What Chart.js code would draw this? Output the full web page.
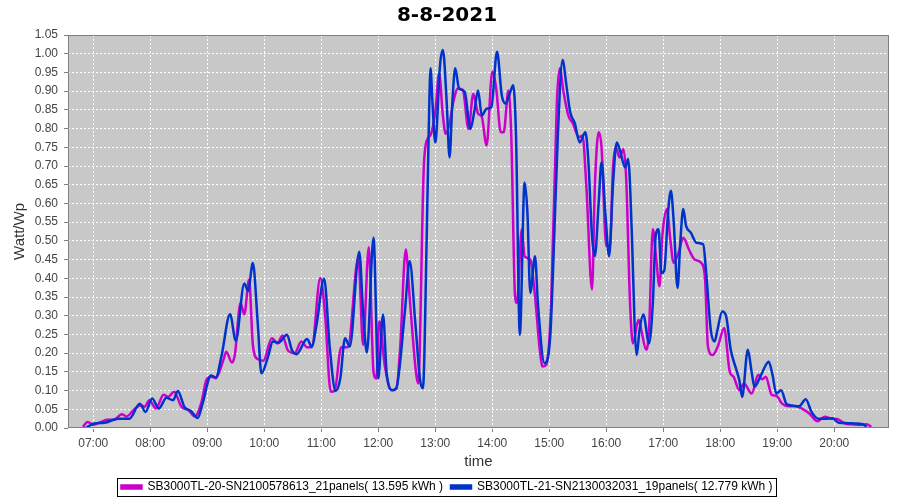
<!DOCTYPE html>
<html>
<head>
<meta charset="utf-8">
<script src="https://cdn.jsdelivr.net/npm/chart.js@4.4.1/dist/chart.umd.min.js"></script>
<style>
  body { margin: 0; background: #fff; }
  #wrap { width: 900px; height: 500px; }
</style>
</head>
<body>
<div id="wrap"><canvas id="powerChart" width="900" height="500"></canvas></div>
<script>
// values (Watt/Wp)
const hourTicks = ["07:00", "08:00", "09:00", "10:00", "11:00", "12:00", "13:00",
  "14:00", "15:00", "16:00", "17:00", "18:00", "19:00", "20:00"];

const sb20Times = ["06:49","06:54","07:00","07:08","07:15","07:22","07:30","07:35","07:44","07:50","07:54","07:59",
  "08:06","08:14","08:19","08:25","08:33","08:40","08:47","08:54","08:59","09:04","09:09","09:17","09:20","09:26",
  "09:29","09:35","09:39","09:44","09:48","09:53","09:59","10:08","10:14","10:19","10:25","10:32","10:39","10:45",
  "10:50","10:59","11:04","11:10","11:14","11:21","11:28","11:39","11:44","11:50","11:55","11:58","12:01","12:07",
  "12:14","12:19","12:23","12:29","12:33","12:40","12:42","12:48","12:52","12:55","13:00","13:04","13:08","13:11",
  "13:15","13:19","13:24","13:29","13:35","13:40","13:45","13:49","13:54","14:00","14:04","14:09","14:12","14:17",
  "14:20","14:24","14:26","14:31","14:34","14:40","14:45","14:50","14:53","14:57","15:02","15:08","15:11","15:15",
  "15:20","15:25","15:31","15:35","15:39","15:45","15:48","15:52","15:55","16:00","16:04","16:07","16:10","16:14",
  "16:18","16:21","16:25","16:28","16:34","16:37","16:42","16:45","16:49","16:52","16:56","16:59","17:04","17:07",
  "17:11","17:16","17:21","17:27","17:33","17:40","17:44","17:47","17:52","17:58","18:04","18:10","18:14","18:20",
  "18:25","18:33","18:40","18:44","18:48","18:54","18:59","19:05","19:12","19:19","19:26","19:34","19:42","19:50",
  "19:57","20:03","20:11","20:18","20:27","20:34","20:39"];
const sb20Values = [0.003,0.016,0.009,0.016,0.022,0.022,0.037,0.031,0.052,0.061,0.057,0.074,
  0.052,0.089,0.083,0.097,0.056,0.048,0.031,0.070,0.128,0.137,0.133,0.182,0.204,0.175,
  0.195,0.334,0.304,0.397,0.222,0.184,0.180,0.240,0.226,0.247,0.207,0.200,0.231,0.216,
  0.216,0.401,0.303,0.097,0.099,0.216,0.216,0.455,0.222,0.483,0.150,0.132,0.285,0.164,
  0.101,0.104,0.213,0.477,0.350,0.142,0.119,0.701,0.773,0.783,0.844,0.947,0.835,0.786,
  0.813,0.871,0.907,0.903,0.799,0.893,0.840,0.831,0.755,0.952,0.910,0.790,0.790,0.902,
  0.781,0.352,0.334,0.531,0.459,0.450,0.352,0.209,0.164,0.170,0.334,0.871,0.961,0.898,
  0.835,0.813,0.777,0.781,0.647,0.370,0.647,0.790,0.750,0.486,0.490,0.692,0.750,0.723,
  0.745,0.665,0.334,0.226,0.289,0.260,0.209,0.262,0.531,0.468,0.379,0.513,0.585,0.513,
  0.441,0.468,0.508,0.477,0.450,0.441,0.397,0.218,0.195,0.222,0.267,0.150,0.137,0.101,
  0.119,0.092,0.142,0.130,0.137,0.089,0.086,0.065,0.058,0.058,0.052,0.038,0.018,0.030,
  0.025,0.024,0.012,0.010,0.008,0.010,0.003];

const sb21Times = ["06:52","07:01","07:12","07:26","07:38","07:49","07:55","08:02","08:09","08:17","08:24","08:29",
  "08:36","08:43","08:50","08:55","09:04","09:09","09:15","09:24","09:30","09:39","09:43","09:48","09:53","09:57",
  "10:04","10:09","10:15","10:24","10:29","10:34","10:45","10:50","10:55","11:03","11:09","11:15","11:20","11:25",
  "11:30","11:40","11:44","11:48","11:55","12:00","12:05","12:09","12:15","12:19","12:28","12:33","12:39","12:44",
  "12:47","12:51","12:53","12:55","12:57","13:00","13:01","13:05","13:08","13:12","13:15","13:18","13:21","13:25",
  "13:31","13:37","13:41","13:45","13:49","13:54","13:59","14:05","14:10","14:14","14:19","14:22","14:25","14:29",
  "14:34","14:37","14:40","14:45","14:48","14:55","15:01","15:04","15:09","15:14","15:18","15:22","15:27","15:32",
  "15:38","15:41","15:45","15:48","15:52","15:55","15:59","16:03","16:07","16:11","16:14","16:20","16:23","16:27",
  "16:30","16:32","16:35","16:39","16:45","16:49","16:52","16:55","16:58","17:01","17:05","17:08","17:11","17:15",
  "17:18","17:21","17:24","17:29","17:35","17:42","17:45","17:50","17:54","17:57","18:02","18:06","18:11","18:17",
  "18:20","18:23","18:29","18:33","18:36","18:43","18:51","18:55","18:59","19:04","19:10","19:16","19:23","19:30",
  "19:36","19:43","19:51","19:58","20:05","20:14","20:21","20:30","20:34"];
const sb21Values = [0.000,0.012,0.014,0.025,0.025,0.065,0.043,0.079,0.052,0.081,0.074,0.099,
  0.056,0.045,0.027,0.065,0.140,0.135,0.193,0.304,0.233,0.386,0.366,0.441,0.285,0.146,
  0.191,0.231,0.228,0.249,0.209,0.197,0.238,0.218,0.276,0.399,0.213,0.099,0.132,0.240,
  0.218,0.471,0.311,0.202,0.508,0.132,0.303,0.142,0.101,0.107,0.311,0.446,0.280,0.128,
  0.106,0.513,0.781,0.961,0.871,0.763,0.780,0.969,1.010,0.871,0.723,0.871,0.961,0.907,
  0.898,0.799,0.844,0.902,0.835,0.853,0.857,1.005,0.889,0.867,0.898,0.916,0.781,0.249,
  0.656,0.575,0.361,0.459,0.334,0.173,0.244,0.423,0.781,0.983,0.916,0.844,0.813,0.763,
  0.790,0.719,0.513,0.459,0.602,0.710,0.575,0.459,0.647,0.763,0.745,0.696,0.719,0.513,
  0.262,0.195,0.262,0.303,0.226,0.334,0.513,0.531,0.414,0.420,0.575,0.634,0.550,0.374,
  0.500,0.585,0.540,0.522,0.495,0.491,0.420,0.262,0.231,0.262,0.311,0.300,0.209,0.155,
  0.128,0.083,0.209,0.150,0.110,0.142,0.177,0.142,0.092,0.101,0.063,0.060,0.058,0.077,
  0.043,0.025,0.025,0.026,0.014,0.013,0.012,0.010,0.003];

function toMinutes(hhmm) {
  const [h, m] = hhmm.split(":").map(Number);
  return h * 60 + m;
}
function toPoints(times, values) {
  return times.map((t, i) => ({ x: toMinutes(t), y: values[i] }));
}

// grey plot area like the original
const plotBackground = {
  id: "plotBackground",
  beforeDraw(chart) {
    const a = chart.chartArea;
    const ctx = chart.ctx;
    ctx.save();
    ctx.fillStyle = "#c8c8c8";
    ctx.fillRect(a.left, a.top, a.right - a.left, a.bottom - a.top);
    ctx.restore();
  },
  afterDraw(chart) {
    const a = chart.chartArea;
    const ctx = chart.ctx;
    ctx.save();
    ctx.strokeStyle = "#808080";
    ctx.lineWidth = 1;
    ctx.strokeRect(a.left + 0.5, a.top + 0.5, a.right - a.left - 1, a.bottom - a.top - 1);
    // legend frame
    const boxes = chart.legend.legendHitBoxes;
    if (boxes && boxes.length) {
      const l = Math.min(...boxes.map(b => b.left)) - 4;
      const r = Math.max(...boxes.map(b => b.left + b.width)) + 4;
      const t = Math.min(...boxes.map(b => b.top)) - 3;
      const b = Math.max(...boxes.map(b => b.top + b.height)) + 3;
      ctx.strokeStyle = "#000";
      ctx.strokeRect(Math.round(l) + 0.5, Math.round(t) + 0.5, Math.round(r - l), Math.round(b - t));
    }
    ctx.restore();
  }
};

const ctx = document.getElementById("powerChart").getContext("2d");
const chart = new Chart(ctx, {
  type: "line",
  data: {
    datasets: [{
      label: "SB3000TL-20-SN2100578613_21panels( 13.595 kWh )",
      data: toPoints(sb20Times, sb20Values),
      borderColor: "#cc00cc",
      backgroundColor: "#cc00cc",
      borderWidth: 2.5,
      pointRadius: 0,
      cubicInterpolationMode: "monotone",
      order: 1
    }, {
      label: "SB3000TL-21-SN2130032031_19panels( 12.779 kWh )",
      data: toPoints(sb21Times, sb21Values),
      borderColor: "#0033cc",
      backgroundColor: "#0033cc",
      borderWidth: 2.5,
      pointRadius: 0,
      cubicInterpolationMode: "monotone",
      order: 0
    }]
  },
  options: {
    responsive: false,
    animation: false,
    layout: { padding: { left: 5, right: 11, top: 0, bottom: -3 } },
    plugins: {
      title: {
        display: true,
        text: "8-8-2021",
        color: "#000",
        font: { family: "DejaVu Sans", size: 20, weight: "bold" },
        padding: { top: 4, bottom: 7 }
      },
      legend: {
        position: "bottom",
        labels: {
          color: "#000",
          font: { family: "Liberation Sans", size: 12 },
          boxWidth: 20,
          boxHeight: 3,
          padding: 8,
          sort: (a, b) => a.datasetIndex - b.datasetIndex
        }
      },
      tooltip: { enabled: false }
    },
    scales: {
      x: {
        type: "linear",
        min: 393.4,
        max: 1257.6,
        afterBuildTicks: axis => { axis.ticks = hourTicks.map(t => ({ value: toMinutes(t) })); },
        afterFit: axis => { axis.height = 45; },
        ticks: {
          color: "#444",
          font: { family: "Liberation Sans", size: 12 },
          padding: 4,
          maxRotation: 0,
          autoSkip: false,
          callback: v => hourTicks.find(t => toMinutes(t) === v) || ""
        },
        grid: { color: "#ffffff", tickColor: "#808080", tickLength: 4 },
        border: { display: false, dash: [2, 2] },
        title: {
          display: true,
          text: "time",
          color: "#333",
          font: { family: "Liberation Sans", size: 15 },
          padding: { top: 2, bottom: 2 }
        }
      },
      y: {
        min: 0,
        max: 1.05,
        afterFit: axis => { axis.width = 63; },
        ticks: {
          stepSize: 0.05,
          color: "#444",
          font: { family: "Liberation Sans", size: 12 },
          padding: 6,
          callback: v => v.toFixed(2)
        },
        grid: { color: "#ffffff", tickColor: "#808080", tickLength: 4 },
        border: { display: false, dash: [2, 2] },
        title: {
          display: true,
          text: "Watt/Wp",
          color: "#333",
          font: { family: "Liberation Sans", size: 15 },
          padding: { top: 6, bottom: 4 }
        }
      }
    }
  },
  plugins: [plotBackground]
});
</script>
</body>
</html>
